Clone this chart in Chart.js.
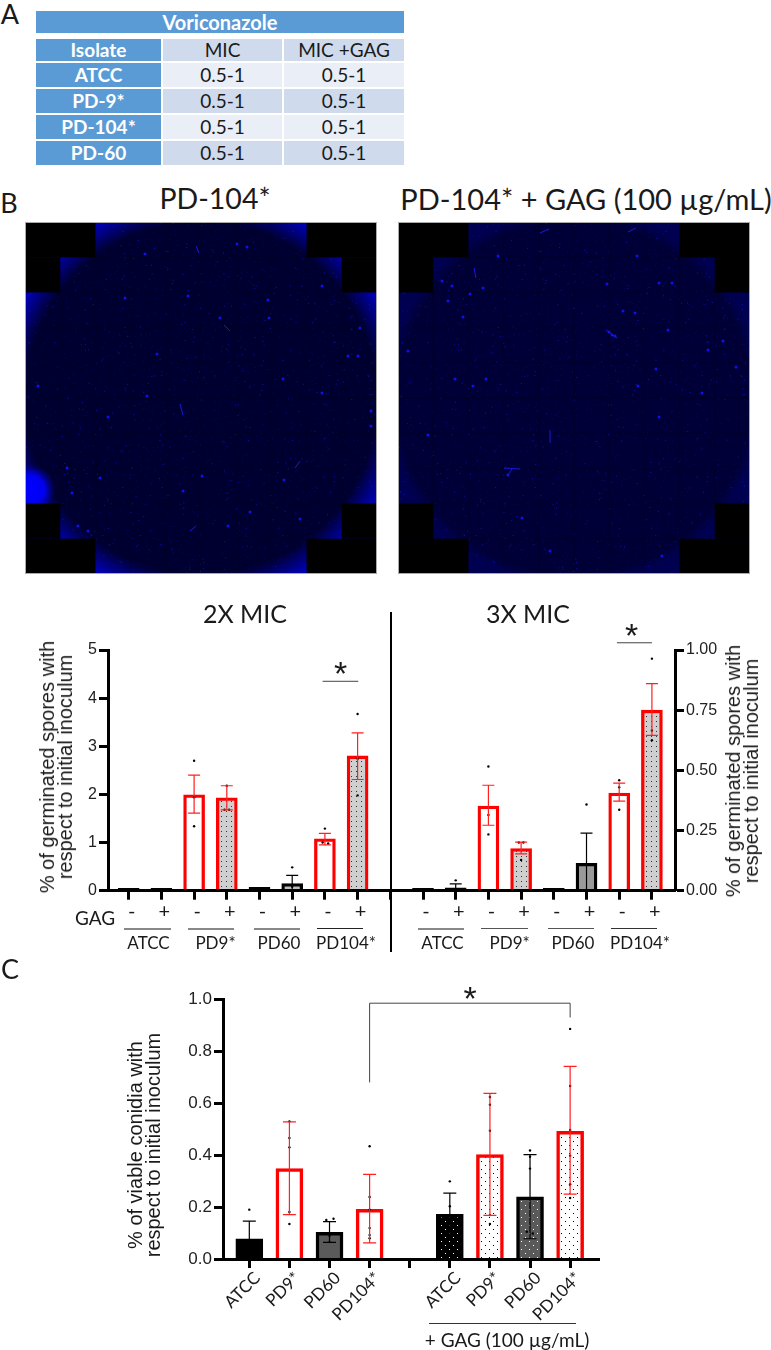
<!DOCTYPE html>
<html>
<head>
<meta charset="utf-8">
<title>Voriconazole and GAG</title>
<script src="https://cdn.jsdelivr.net/npm/chart.js@4/dist/chart.umd.min.js"></script>
<style>
    html, body { margin: 0; padding: 0; background: #fff; }
    #page { position: relative; width: 771px; height: 1350px; overflow: hidden; font-family: Lato, sans-serif; color: #1a1a1a; }
    canvas { position: absolute; display: block; }
    .t { position: absolute; white-space: nowrap; transform: translate(-50%, -50%); }
    .rot { text-align: center; transform: translate(-50%, -50%) rotate(-90deg); font-family: "Liberation Sans", Arial, sans-serif; line-height: 18px; }
    .rule { position: absolute; }
    #tableHead { position: absolute; left: 36px; top: 11px; width: 368px; height: 22px; line-height: 22px; background: #5b9bd5; color: #fff; font-weight: 700; font-size: 20px; text-align: center; }
    table { position: absolute; left: 34px; top: 37px; border-collapse: separate; border-spacing: 2px; table-layout: fixed; width: 372px; }
    td { padding: 0; text-align: center; font-size: 19px; line-height: 20px; }
    td.head { background: #5b9bd5; color: #fff; font-weight: 700; }
    tr.a td { background: #cfdaec; }
    tr.b td { background: #e9eef7; }
    tr.a td.head, tr.b td.head { background: #5b9bd5; }
</style>
</head>
<body>
<div id="page">
    <div id="tableHead">Voriconazole</div>
    <table id="micTable"></table>
    <canvas id="scanPlain" width="352" height="352" style="left:25px;top:222px"></canvas>
    <canvas id="scanGag" width="352" height="352" style="left:398px;top:222px"></canvas>
    <canvas id="chartB" width="771" height="360" style="left:0;top:600px"></canvas>
    <canvas id="chartC" width="771" height="390" style="left:0;top:960px"></canvas>
</div>
<script>
// Table A
const isolates = ['ATCC', 'PD-9*', 'PD-104*', 'PD-60'];
const micPlain = ['0.5-1', '0.5-1', '0.5-1', '0.5-1'];
const micGag = ['0.5-1', '0.5-1', '0.5-1', '0.5-1'];

// Panel B, bars run ATCC -, ATCC +, PD9 -, PD9 +, PD60 -, PD60 +, PD104 -, PD104 +
const signLabels = ['-', '+', '-', '+', '-', '+', '-', '+', '', '-', '+', '-', '+', '-', '+', '-', '+'];
const values2x = [0.05, 0.05, 1.99, 1.93, 0.07, 0.15, 1.08, 2.8];
const high2x = [null, null, 2.4, 2.18, null, 0.32, 1.19, 3.28];
const low2x = [null, null, 1.61, 1.68, null, 0, 0.95, 2.31];
const dots2x = [[2, 2.7], [2, 1.94], [2, 1.34], [3, 2.18], [2.93, 1.68], [3.07, 1.68], [5, 0.485], [5, 0.08],
    [6, 1.29], [5.93, 1.0], [6.1, 0.98], [7, 3.67], [7, 2.74], [7, 1.98]];
const values3x = [0.01, 0.012, 0.352, 0.175, 0.01, 0.114, 0.406, 0.75];
const high3x = [null, 0.028, 0.438, 0.202, null, 0.239, 0.447, 0.86];
const low3x = [null, 0, 0.272, 0.153, null, 0, 0.372, 0.645];
const dots3x = [[1, 0.043], [2, 0.516], [2, 0.315], [2, 0.234], [2.93, 0.2], [3.07, 0.2], [3, 0.128], [5, 0.358],
    [6, 0.459], [6, 0.43], [6, 0.336], [7, 0.964], [7, 0.666], [7, 0.625]];

// Panel C
const isolateLabels = ['ATCC', 'PD9*', 'PD60', 'PD104*', '', 'ATCC', 'PD9*', 'PD60', 'PD104*'];
const viable = [0.078, 0.348, 0.103, 0.191, null, 0.172, 0.402, 0.239, 0.492];
const viableHigh = [0.146, 0.528, 0.144, 0.326, null, 0.254, 0.638, 0.402, 0.742];
const viableLow = [0.01, 0.171, 0.064, 0.062, null, 0.09, 0.168, 0.078, 0.25];
const viableDots = [[0, 0.19], [1, 0.53], [1, 0.466], [1, 0.43], [1, 0.181], [1, 0.135], [1.92, 0.15], [2.1, 0.155],
    [2, 0.09], [2, 0.065], [3, 0.434], [3, 0.239], [3, 0.19], [3, 0.119], [3, 0.092], [3, 0.08], [5, 0.299], [5, 0.203],
    [6, 0.624], [6, 0.594], [6, 0.494], [6, 0.169], [6, 0.135], [7, 0.418], [7, 0.394], [7, 0.348], [6.92, 0.105],
    [7.07, 0.098], [8, 0.886], [8, 0.666], [8, 0.497], [8, 0.398], [8, 0.288], [8, 0.235]];

// Scan texture, bright spots and hyphae seen in the two wells
const plainSpots = [[120, 32], [212, 22], [222, 25], [163, 74], [243, 78], [244, 96], [195, 96], [132, 132], [258, 157], [122, 174],
    [346, 189], [297, 171], [13, 164], [83, 195], [158, 269], [259, 258], [177, 254], [75, 256], [42, 246], [47, 271], [225, 290],
    [63, 309], [53, 304], [275, 297], [203, 304], [333, 134], [323, 134], [297, 64], [100, 76], [335, 106], [346, 204]];
const plainStreaks = [[171, 24, 174, 31], [199, 103, 205, 109], [155, 182, 158, 193], [270, 246, 275, 239], [165, 309, 171, 304]];
const gagSpots = [[44, 59], [54, 64], [72, 72], [85, 66], [50, 79], [214, 113], [217, 114], [211, 110], [225, 89], [209, 62], [237, 91],
    [274, 61], [261, 61], [325, 119], [310, 128], [338, 145], [57, 157], [75, 164], [88, 157], [10, 129], [30, 213], [110, 253],
    [152, 329], [264, 334], [124, 296], [240, 164], [258, 147], [304, 171], [261, 195], [65, 95], [239, 34], [100, 34], [270, 108]];
const gagStreaks = [[142, 11, 151, 7], [230, 10, 238, 6], [76, 46, 78, 56], [152, 208, 152, 221], [106, 246, 122, 247], [114, 247, 110, 253], [208, 108, 219, 116]];

// table
const micTable = document.getElementById('micTable');
let rows = '<colgroup><col style="width:125px"><col style="width:119px"><col style="width:120px"></colgroup>';
rows += '<tr class="a" style="height:22px"><td class="head">Isolate</td><td>MIC</td><td>MIC +GAG</td></tr>';
isolates.forEach((name, i) => {
    rows += `<tr class="${i % 2 ? 'a' : 'b'}" style="height:24px"><td class="head">${name}</td><td>${micPlain[i]}</td><td>${micGag[i]}</td></tr>`;
});
micTable.innerHTML = rows;

// page labels
const page = document.getElementById('page');
function label(text, x, y, size, cls, font) {
    const el = document.createElement('div');
    el.className = cls || 't';
    el.innerHTML = text;
    el.style.left = x + 'px';
    el.style.top = y + 'px';
    el.style.fontSize = size + 'px';
    if (font) el.style.fontFamily = font;
    page.appendChild(el);
}
function rule(x1, x2, y, color, h) {
    const el = document.createElement('div');
    el.className = 'rule';
    el.style.cssText = `left:${x1}px;top:${y}px;width:${x2 - x1}px;height:${h}px;background:${color}`;
    page.appendChild(el);
}
label('A', 10, 13, 27);
label('B', 9, 202, 27);
label('C', 10, 968, 27);
label('PD-104*', 215, 198, 28.5);
label('PD-104* + GAG (100 µg/mL)', 586, 198, 29);
label('2X MIC', 245, 613, 25);
label('3X MIC', 528, 613, 25);
label('GAG', 95, 917, 19);
const starFont = '"Liberation Sans", Arial, sans-serif';
label('*', 340.7, 673, 34, 't', starFont);
label('*', 631.7, 635, 34, 't', starFont);
label('*', 470, 998, 34, 't', starFont);
label('% of germinated spores with<br>respect to initial inoculum', 56, 767, 20, 't rot');
label('% of germinated spores with<br>respect to initial inoculum', 742, 771, 20, 't rot');
label('% of viable conidia with<br>respect to initial inoculum', 144, 1145, 20, 't rot');
[['ATCC', 148.5], ['PD9*', 215.5], ['PD60', 279], ['PD104*', 346], ['ATCC', 442.5], ['PD9*', 509.7], ['PD60', 573], ['PD104*', 640]].forEach(g => {
    label(g[0], g[1], 942, 17);
});
rule(124, 171, 928, '#888', 1.5);
rule(188, 234, 928, '#888', 1.5);
rule(254, 300, 928, '#888', 1.5);
rule(317, 363, 928, '#222', 1);
rule(418, 464, 928, '#888', 1.5);
rule(481, 528, 928, '#555', 1);
rule(548, 594, 928, '#555', 1);
rule(611, 657, 928, '#333', 1);
rule(390, 392, 612, '#000', 340);
rule(429, 576, 1322.5, '#333', 1);
label('+ GAG (100 µg/mL)', 507, 1339, 19);

// microscope scans
function grain(n) {
    const v = Math.sin(n * 12.9898) * 43758.5453;
    return v - Math.floor(v);
}
function drawScan(id, spots, streaks, outside, inside, glow) {
    const ctx = document.getElementById(id).getContext('2d');
    const size = 352, tile = size / 10, mid = size / 2;
    const grad = ctx.createRadialGradient(mid, mid, 160, mid, mid, 250);
    grad.addColorStop(0, inside);
    grad.addColorStop(0.18, inside);
    grad.addColorStop(glow ? 0.47 : 0.3, outside);
    grad.addColorStop(1, outside);
    ctx.fillStyle = grad;
    ctx.fillRect(0, 0, size, size);
    if (glow) {
        const spot = ctx.createRadialGradient(4, 268, 2, 4, 268, 26);
        spot.addColorStop(0, '#0000ff');
        spot.addColorStop(0.55, '#0000f0');
        spot.addColorStop(1, 'rgba(0,0,200,0)');
        ctx.fillStyle = spot;
        ctx.fillRect(0, 232, 50, 50);
    }
    // darker seams between the stitched tiles
    ctx.fillStyle = 'rgba(0,0,0,0.12)';
    for (let i = 1; i < 10; i++) {
        ctx.fillRect(i * tile - 1, 0, 2, size);
        ctx.fillRect(0, i * tile - 1, size, 2);
    }
    // faint background grain
    for (let i = 1; i < 2600; i++) {
        const x = grain(i) * size;
        const y = grain(i + 5000) * size;
        ctx.fillStyle = i % 6 ? 'rgba(12,12,130,0.55)' : 'rgba(20,20,200,0.85)';
        ctx.fillRect(x, y, 1, 1);
    }
    ctx.fillStyle = '#1010ee';
    spots.forEach(s => {
        ctx.beginPath();
        ctx.arc(s[0], s[1], 1.5, 0, Math.PI * 2);
        ctx.fill();
    });
    ctx.strokeStyle = '#1818e0';
    ctx.lineWidth = 1;
    streaks.forEach(s => {
        ctx.beginPath();
        ctx.moveTo(s[0], s[1]);
        ctx.lineTo(s[2], s[3]);
        ctx.stroke();
    });
    // black corners outside the tile mosaic
    ctx.fillStyle = '#000';
    [[0, 0, 2, 1], [0, 1, 1, 1], [8, 0, 2, 1], [9, 1, 1, 1], [0, 9, 2, 1], [0, 8, 1, 1], [8, 9, 2, 1], [9, 8, 1, 1]].forEach(c => {
        ctx.fillRect(c[0] * tile, c[1] * tile, c[2] * tile, c[3] * tile);
    });
    ctx.strokeStyle = '#aaa';
    ctx.strokeRect(0.5, 0.5, size - 1, size - 1);
}
drawScan('scanPlain', plainSpots, plainStreaks, '#0000b8', '#000030', true);
drawScan('scanGag', gagSpots, gagStreaks, '#000050', '#000036', false);

// charts
Chart.defaults.font.family = '"Liberation Sans", Arial, sans-serif';
Chart.defaults.color = '#222';
Chart.defaults.animation = false;

function dotPattern(bg, dot, step, stagger) {
    const c = document.createElement('canvas');
    c.width = step;
    c.height = step;
    const g = c.getContext('2d');
    g.fillStyle = bg;
    g.fillRect(0, 0, step, step);
    g.fillStyle = dot;
    g.fillRect(1, 1, 1, 1);
    if (stagger) g.fillRect(1 + step / 2, 1 + step / 2, 1, 1);
    return g.createPattern(c, 'repeat');
}

// error bars and significance lines, placed through the chart scales
function overlayPlugin(errorSets, sigLines) {
    return {
        id: 'overlay',
        afterDatasetsDraw(chart) {
            const ctx = chart.ctx, xs = chart.scales.x;
            ctx.save();
            errorSets.forEach(set => {
                const ys = chart.scales[set.axis];
                set.high.forEach((hi, i) => {
                    if (hi === null) return;
                    const x = xs.getPixelForValue(i + set.start);
                    const top = ys.getPixelForValue(hi), bottom = ys.getPixelForValue(set.low[i]);
                    ctx.strokeStyle = set.colors[i] === '#ff0000' ? '#ff2020' : '#000';
                    ctx.lineWidth = 1.2;
                    ctx.beginPath();
                    ctx.moveTo(x, top);
                    ctx.lineTo(x, bottom);
                    ctx.moveTo(x - set.cap, top);
                    ctx.lineTo(x + set.cap, top);
                    ctx.moveTo(x - set.cap, bottom);
                    ctx.lineTo(x + set.cap, bottom);
                    ctx.stroke();
                });
            });
            ctx.strokeStyle = '#444';
            ctx.lineWidth = 1;
            sigLines.forEach(line => {
                ctx.beginPath();
                line.points.forEach((p, i) => {
                    const x = xs.getPixelForValue(p[0]), y = chart.scales[line.axis].getPixelForValue(p[1]);
                    if (i) ctx.lineTo(x, y); else ctx.moveTo(x, y);
                });
                ctx.stroke();
            });
            ctx.restore();
        }
    };
}

function yAxis(position, max, step, digits, width, size) {
    return {
        type: 'linear',
        position: position,
        min: 0,
        max: max,
        afterFit(scale) { scale.width = width; },
        border: { display: true, color: '#000', width: 3, z: 1 },
        grid: { drawOnChartArea: false, tickLength: 9, tickWidth: 3, tickColor: '#000' },
        ticks: { stepSize: step, padding: 2, font: { size: size }, callback: v => v.toFixed(digits) }
    };
}
function xAxis(labels, min, max, height, tickFont, extra) {
    return {
        type: 'linear',
        offset: false,
        min: min,
        max: max,
        afterBuildTicks(scale) { scale.ticks = labels.map((_, i) => ({ value: i })); },
        afterFit(scale) { scale.height = height; },
        border: { display: true, color: '#000', width: 3, z: 1 },
        grid: { offset: false, drawOnChartArea: false, tickLength: 9, tickWidth: 3, tickColor: '#000' },
        ticks: Object.assign({ autoSkip: false, font: tickFont, color: '#1a1a1a', callback: v => labels[v] }, extra)
    };
}
function barSet(values, start, axis, fills, borders, width, thick) {
    return {
        type: 'bar',
        data: values.map((y, i) => ({ x: i + start, y: y })),
        yAxisID: axis,
        grouped: false,
        barThickness: width,
        backgroundColor: fills,
        borderColor: borders,
        borderWidth: thick,
        borderSkipped: 'bottom',
        order: 2
    };
}
function dotSet(dots, start, axis, size) {
    return {
        type: 'scatter',
        data: dots.map(d => ({ x: d[0] + start, y: d[1] })),
        yAxisID: axis,
        backgroundColor: '#000',
        borderWidth: 0,
        pointRadius: size,
        order: 1
    };
}

const RED = '#ff0000', BLK = '#000000';
const grayDots = dotPattern('#cfcfcf', '#333', 5, false);
const fills2x = [BLK, BLK, '#fff', grayDots, BLK, '#bdbdbd', '#fff', grayDots];
const fills3x = [BLK, BLK, '#fff', grayDots, BLK, '#9a9a9a', '#fff', grayDots];
const bordersB = [BLK, BLK, RED, RED, BLK, BLK, RED, RED];

new Chart(document.getElementById('chartB'), {
    data: {
        datasets: [
            barSet(values2x, 0, 'y', fills2x, bordersB, 21, 3.3),
            barSet(values3x, 9, 'y1', fills3x, bordersB, 21, 3.3),
            dotSet(dots2x, 0, 'y', 1.2),
            dotSet(dots3x, 9, 'y1', 1.2)
        ]
    },
    options: {
        responsive: false,
        devicePixelRatio: 1,
        layout: { padding: { top: 50, left: 0, right: 0, bottom: 0 } },
        plugins: { legend: { display: false }, tooltip: { enabled: false } },
        scales: {
            x: xAxis(signLabels, -0.633, 16.706, 69.3, { family: 'Lato', size: 20 }, { maxRotation: 0, padding: 0, labelOffset: 3 }),
            y: yAxis('left', 5, 1, 0, 108, 16),
            y1: yAxis('right', 1, 0.25, 2, 96, 16)
        }
    },
    plugins: [overlayPlugin([
        { axis: 'y', start: 0, high: high2x, low: low2x, colors: bordersB, cap: 6 },
        { axis: 'y1', start: 9, high: high3x, low: low3x, colors: bordersB, cap: 6 }
    ], [
        { axis: 'y', points: [[5.93, 4.35], [7.02, 4.35]] },
        { axis: 'y1', points: [[14.93, 1.03], [16, 1.03]] }
    ])]
});

const blackDots = dotPattern('#000', '#fff', 8, true);
const whiteDots = dotPattern('#fff', '#000', 8, true);
const darkDots = dotPattern('#5a5a5a', '#fff', 8, true);
const fillsC = [BLK, '#fff', '#5a5a5a', '#fff', null, blackDots, whiteDots, darkDots, whiteDots];
const bordersC = [BLK, RED, BLK, RED, null, BLK, RED, BLK, RED];

new Chart(document.getElementById('chartC'), {
    data: {
        datasets: [
            barSet(viable, 0, 'y', fillsC, bordersC, 27, 3.5),
            dotSet(viableDots, 0, 'y', 1.2)
        ]
    },
    options: {
        responsive: false,
        devicePixelRatio: 1,
        layout: { padding: { top: 39.3, left: 0, right: 172, bottom: 0 } },
        plugins: { legend: { display: false }, tooltip: { enabled: false } },
        scales: {
            x: xAxis(isolateLabels, -0.656, 8.72, 91, { family: 'Lato', size: 17 }, { minRotation: 45, maxRotation: 45, padding: 0, labelOffset: 8 }),
            y: yAxis('left', 1, 0.2, 1, 223, 17)
        }
    },
    plugins: [overlayPlugin([
        { axis: 'y', start: 0, high: viableHigh, low: viableLow, colors: bordersC, cap: 6.5 }
    ], [
        { axis: 'y', points: [[3, 0.68], [3, 0.985], [8, 0.985], [8, 0.93]] }
    ])]
});
</script>
</body>
</html>
